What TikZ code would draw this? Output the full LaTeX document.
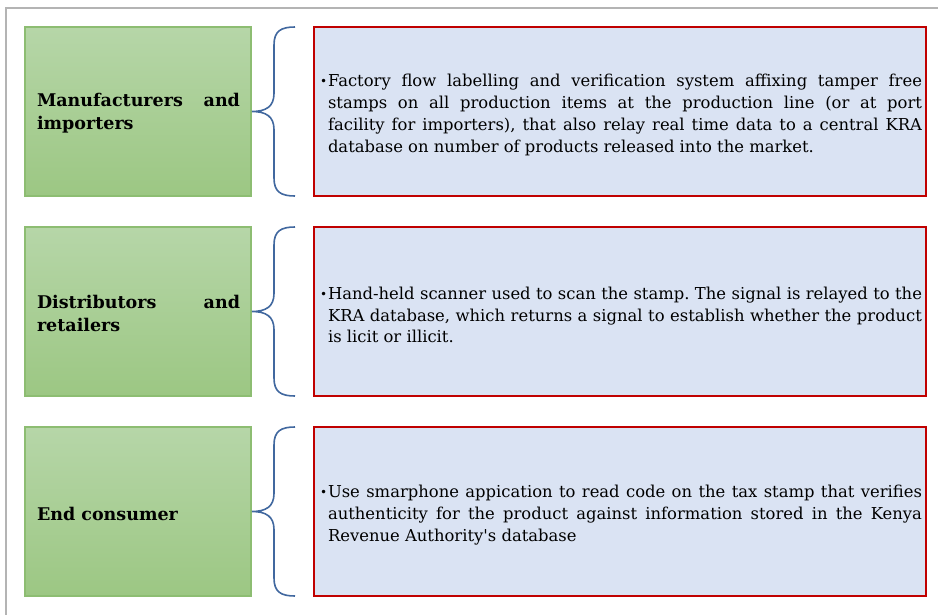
\documentclass[tikz,border=0pt]{standalone}
\usepackage{fontspec}
\setmainfont{DejaVu Serif}
\newfontfamily\qfont{DejaVu Serif}
\definecolor{gtop}{HTML}{B6D6A8}
\definecolor{gbot}{HTML}{9CC783}
\definecolor{gline}{HTML}{8DBD72}
\definecolor{bfill}{HTML}{DAE3F3}
\definecolor{rline}{HTML}{C00000}
\definecolor{brc}{HTML}{41689F}
\definecolor{frame}{HTML}{B4B4B4}
\tikzset{
  greenbox/.style={draw=gline, line width=1.2pt, top color=gtop, bottom color=gbot, shading angle=0},
  bluebox/.style={draw=rline, line width=2pt, fill=bfill},
  bracepath/.style={draw=brc, line width=1.6pt},
  labeltxt/.style={inner sep=0pt, font=\fontsize{17.5}{23}\selectfont\bfseries},
  desctxt/.style={inner sep=0pt, font=\fontsize{16.4}{21.7}\selectfont},
}
\newcommand{\bul}{\frenchspacing\hangindent=8pt\hangafter=1\noindent\makebox[8pt][l]{\raisebox{1.3pt}{\fontsize{12}{12}\selectfont\char"2022}}}
\begin{document}
\begin{tikzpicture}[x=1pt,y=-1pt]
\useasboundingbox (0,0) rectangle (938,614);
\draw[frame, line width=1.6pt] (6,620) -- (6,8) -- (945,8);
% rows
\foreach \i/\yt in {1/27,2/227,3/427}{
  \pgfmathsetmacro{\yb}{\yt+169}
  \pgfmathsetmacro{\ym}{\yt+84.5}
  \path[greenbox] (25,\yt) rectangle (251,\yb);
  \path[bluebox] (313.5,\yt) rectangle (926,\yb);
  \coordinate (bt\i) at (295,\yt);
  \coordinate (bm\i) at (252,\ym);
  \coordinate (bb\i) at (295,\yb);
  \path[bracepath] (bt\i) .. controls (281,\yt) and (274,\yt+4) .. (274,\yt+18)
     -- (274,\ym-18) .. controls (274,\ym-5) and (266,\ym) .. (bm\i)
     .. controls (266,\ym) and (274,\ym+5) .. (274,\ym+18)
     -- (274,\yb-18) .. controls (274,\yb-4) and (281,\yb) .. (bb\i);
}
\node[labeltxt] (l1) at (138.5,113.5) {\begin{minipage}{203pt}Manufacturers and\linebreak importers\end{minipage}};
\node[labeltxt] (l2) at (138.5,313.5) {\begin{minipage}{203pt}Distributors and\linebreak retailers\end{minipage}};
\node[labeltxt] (l3) at (138.5,513.5) {\begin{minipage}{203pt}End consumer\end{minipage}};
\node[desctxt] (d1) at (621,115) {\begin{minipage}{602pt}\bul Factory flow labelling and verification system affixing tamper free\linebreak stamps on all production items at the production line (or at port\linebreak facility for importers), that also relay real time data to a central KRA\linebreak database on number of products released into the market.\end{minipage}};
\node[desctxt] (d2) at (621,315) {\begin{minipage}{602pt}\bul Hand-held scanner used to scan the stamp. The signal is relayed to the\linebreak KRA database, which returns a signal to establish whether the product\linebreak is licit or illicit.\end{minipage}};
\node[desctxt] (d3) at (621,515) {\begin{minipage}{602pt}\bul Use smarphone appication to read code on the tax stamp that verifies\linebreak authenticity for the product against information stored in the Kenya\linebreak Revenue Authority{\qfont '}s database\end{minipage}};
\end{tikzpicture}
\end{document}
